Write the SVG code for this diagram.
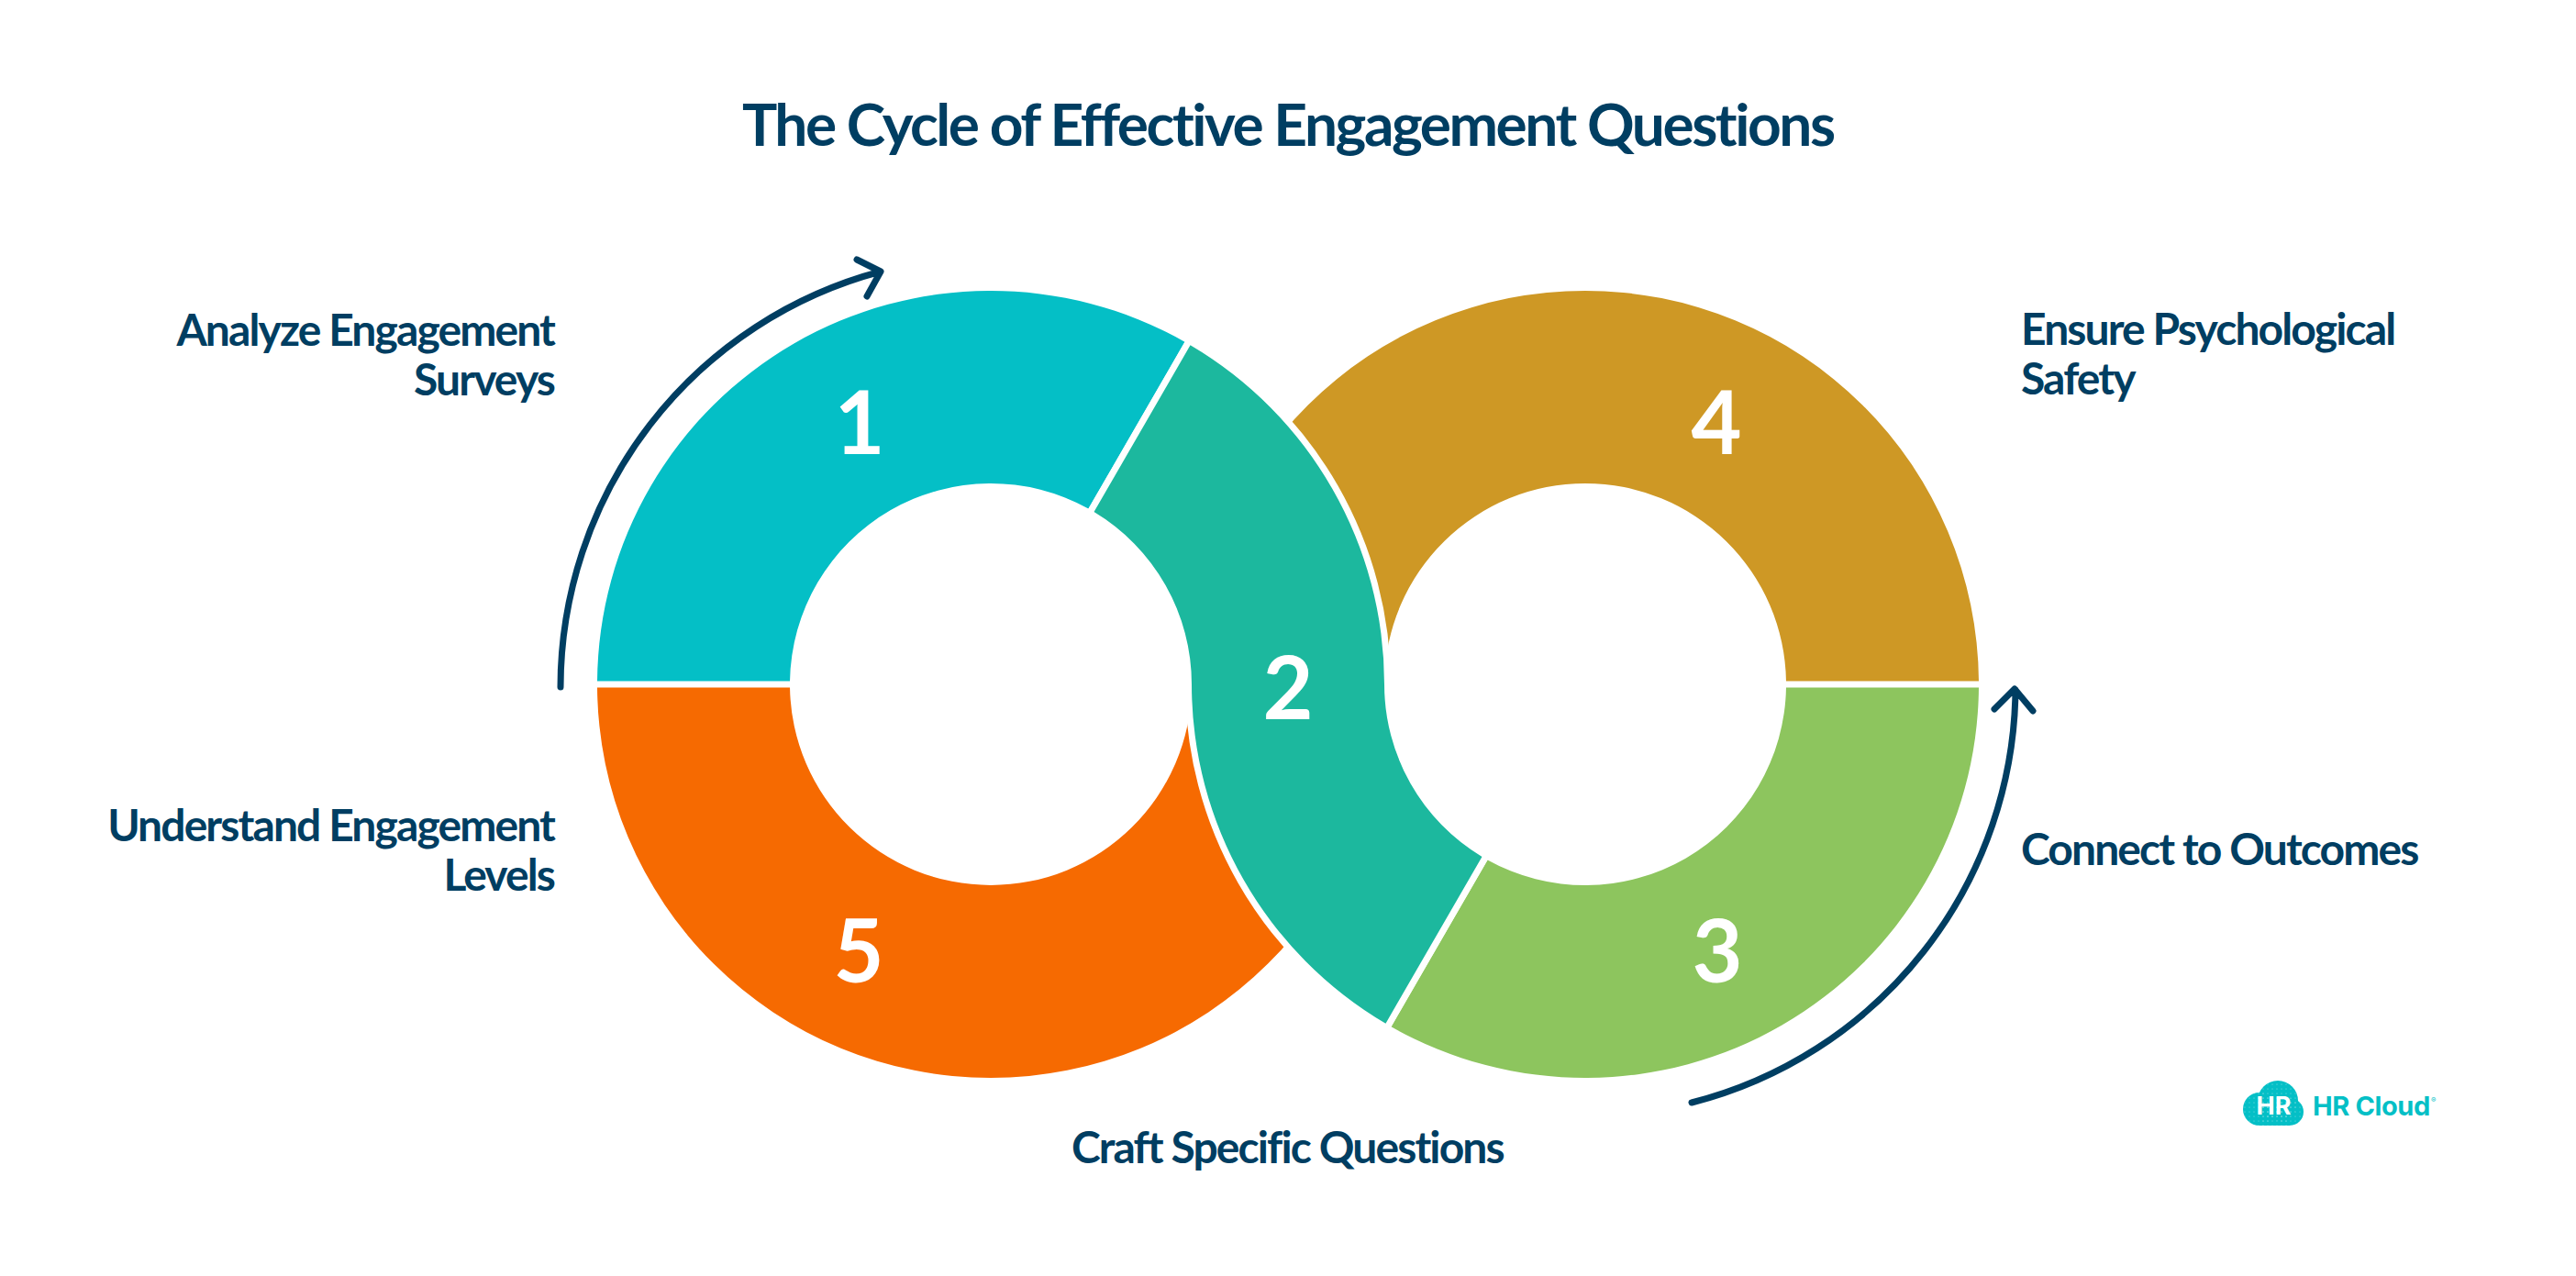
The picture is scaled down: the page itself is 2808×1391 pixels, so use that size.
<svg xmlns="http://www.w3.org/2000/svg" width="2808" height="1391" viewBox="0 0 2808 1391">
<defs><pattern id="dots" width="5" height="5" patternUnits="userSpaceOnUse"><circle cx="2" cy="2" r="0.5" fill="#9BE3E6"/></pattern></defs>
<style>
.t{font-family:"Lato","Liberation Sans",sans-serif;font-weight:700;fill:#003E62}
.lb{font-size:48px;letter-spacing:-1.9px}
.n{font-family:"Lato","Liberation Sans",sans-serif;font-weight:700;font-size:95px;fill:#fff;text-anchor:middle}
.a{fill:none;stroke:#003E62;stroke-width:7;stroke-linecap:round;stroke-linejoin:round}
.r{text-anchor:end}
.lg{fill:#04BFC6}
</style>
<rect width="2808" height="1391" fill="#fff"/>
<text class="t" id="title" x="809" y="159" font-size="64" letter-spacing="-2.45">The Cycle of Effective Engagement Questions</text>
<g id="node-4"><path fill="#CE9825" d="M2156.986 742.5A429 429 0 0 0 1299.014 742.5L1509.028 742.5A219 219 0 0 1 1946.972 742.5Z"/><text class="n" x="1871" y="495">4</text>
<text class="t lb" x="2203" y="376">Ensure Psychological</text><text class="t lb" x="2203" y="430">Safety</text></g>
<g id="node-5"><path fill="#F66A01" d="M651.014 749.5A429 429 0 0 0 1508.986 749.5L1298.972 749.5A219 219 0 0 1 861.028 749.5Z"/><text class="n" x="936" y="1071">5</text>
<text class="t lb r" x="604" y="917">Understand Engagement</text><text class="t lb r" x="604" y="971">Levels</text></g>
<g id="node-1"><path fill="#04BFC6" d="M651.014 742.5A429 429 0 0 1 1291.462 372.737L1186.455 554.615A219 219 0 0 0 861.028 742.5Z"/><text class="n" x="937" y="495">1</text>
<text class="t lb r" x="604" y="377">Analyze Engagement</text><text class="t lb r" x="604" y="431">Surveys</text></g>
<g id="node-3"><path fill="#8DC55E" d="M2156.986 749.5A429 429 0 0 1 1516.538 1119.263L1621.545 937.385A219 219 0 0 0 1946.972 749.5Z"/><text class="n" x="1872" y="1071">3</text>
<text class="t lb" x="2203" y="943">Connect to Outcomes</text></g>
<g id="node-2"><path fill="#1CB89E" stroke="#fff" stroke-width="14" paint-order="stroke" stroke-linejoin="round" d="M1297.524 376.237A429 429 0 0 1 1509 746A219 219 0 0 0 1615.483 933.885L1510.476 1115.763A429 429 0 0 1 1299 746A219 219 0 0 0 1192.517 558.115Z"/><text class="n" x="1404" y="784">2</text>
<text class="t lb" x="1168" y="1268">Craft Specific Questions</text></g>
<g id="connectors">
<path class="a" d="M611 749A469 469 0 0 1 960 296M934 283L960 296L945 323"/>
<path class="a" d="M2197 752A469 469 0 0 1 1844 1202M2174 773L2196 751L2216 775"/>
</g>
<g id="logo">
<g class="lg"><circle cx="2463" cy="1209" r="18"/><circle cx="2483" cy="1200" r="22"/><circle cx="2496" cy="1212" r="15"/><rect x="2463" y="1205" width="33" height="22"/></g>
<g fill="url(#dots)"><circle cx="2463" cy="1209" r="18"/><circle cx="2483" cy="1200" r="22"/><circle cx="2496" cy="1212" r="15"/><rect x="2463" y="1205" width="33" height="22"/></g>
<text x="2478.5" y="1215" font-family="Inter,sans-serif" font-weight="700" font-size="27" fill="#fff" text-anchor="middle">HR</text>
<text class="lg" x="2521" y="1216" font-family="Inter,sans-serif" font-weight="700" font-size="29" letter-spacing="-0.4">HR Cloud</text>
<text class="lg" x="2650" y="1202" font-family="Inter,sans-serif" font-size="8">®</text>
</g>
</svg>
